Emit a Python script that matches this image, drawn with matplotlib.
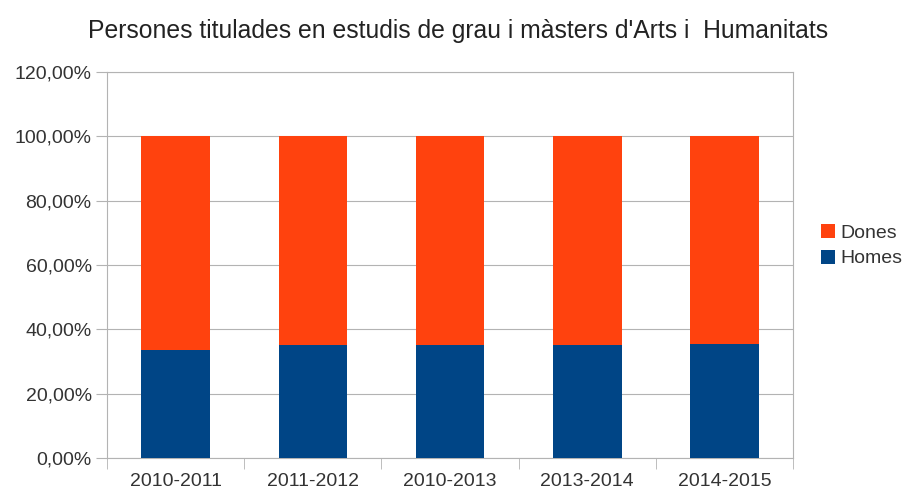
import matplotlib.pyplot as plt
import numpy as np
from matplotlib.ticker import FuncFormatter, FixedLocator

plt.rcParams['font.family'] = ['Liberation Sans', 'DejaVu Sans']

cursos = ['2010-2011', '2011-2012', '2010-2013', '2013-2014', '2014-2015']
homes = [33.7, 35.0, 35.1, 35.1, 35.5]
dones = [100 - h for h in homes]

color_dones = '#ff420e'
color_homes = '#004586'
gris = '#b3b3b3'

fig = plt.figure(figsize=(9.03, 4.9), dpi=100)
ax = fig.add_axes([107 / 903, 1 - 458 / 490, (793 - 107) / 903, (458 - 72) / 490])

x = np.arange(len(cursos))
ax.bar(x, homes, width=0.5, color=color_homes, label='Homes', zorder=3)
ax.bar(x, dones, width=0.5, bottom=homes, color=color_dones, label='Dones', zorder=3)

ax.set_xlim(-0.5, len(cursos) - 0.5)
ax.set_ylim(0, 120)
ax.set_yticks(np.arange(0, 121, 20))
ax.yaxis.set_major_formatter(FuncFormatter(lambda v, p: f'{v:.2f}%'.replace('.', ',')))
ax.set_xticks(x)
ax.set_xticklabels(cursos)
ax.xaxis.set_minor_locator(FixedLocator(np.arange(-0.5, len(cursos), 1)))

ax.grid(axis='y', color=gris, linewidth=0.8, zorder=0)
for s in ax.spines.values():
    s.set_color(gris)
    s.set_linewidth(0.8)

ax.tick_params(axis='y', length=8, color=gris, labelsize=14, labelcolor='#333333', pad=3)
ax.tick_params(axis='x', which='major', length=0, labelsize=14, labelcolor='#333333', pad=11)
ax.tick_params(axis='x', which='minor', length=8, color=gris)

fig.suptitle("Persones titulades en estudis de grau i màsters d'Arts i  Humanitats",
             x=0.507, y=0.962, fontsize=17.8, color='#222222')

handles, labels = ax.get_legend_handles_labels()
ax.legend(handles[::-1], labels[::-1], loc='center left', bbox_to_anchor=(1.015, 0.55),
          frameon=False, fontsize=14, handlelength=0.75, handleheight=0.75,
          handletextpad=0.25, labelspacing=0.4, labelcolor='#333333')

fig.savefig('out.png', dpi=100)
